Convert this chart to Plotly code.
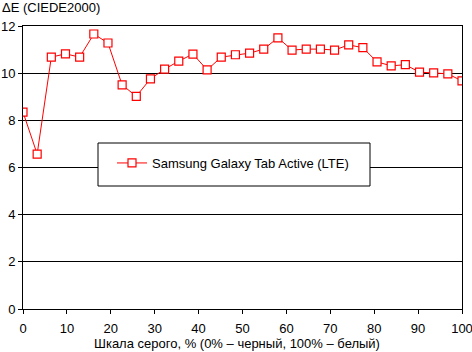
import plotly.graph_objects as go

n = 32
x_vals = [i * 100 / 31 for i in range(n)]
de_vals = [8.35, 6.57, 10.68, 10.82, 10.68, 11.66, 11.28, 9.50, 9.02, 9.76,
           10.17, 10.51, 10.81, 10.14, 10.68, 10.78, 10.85, 11.02, 11.50, 10.98,
           11.02, 11.02, 10.98, 11.20, 11.08, 10.48, 10.31, 10.36, 10.04, 10.01,
           9.97, 9.67]
series_name = "Samsung Galaxy Tab Active (LTE)"
x_ticks = [0, 10, 20, 30, 40, 50, 60, 70, 80, 90, 100]
y_ticks = [0, 2, 4, 6, 8, 10, 12]

font = dict(family="Arial, Liberation Sans, sans-serif", size=13, color="black")

fig = go.Figure()
fig.add_trace(go.Scatter(
    x=x_vals, y=de_vals, mode="lines+markers", name=series_name,
    line=dict(color="#ff0000", width=1),
    marker=dict(symbol="square", size=8, color="white",
                line=dict(color="#ff0000", width=1.2)),
))

L, R, T, B = 23, 10, 26, 43
W, H = 472, 352
pw, ph = W - L - R, H - T - B

def px_x(p):
    return (p - L) / pw

def px_y(p):
    return (H - B - p) / ph

fig.add_shape(type="rect", xref="paper", yref="paper",
              x0=px_x(98), x1=px_x(370), y0=px_y(186), y1=px_y(143),
              line=dict(color="black", width=1), fillcolor="white", layer="above")

fig.update_layout(
    width=W, height=H,
    margin=dict(l=L, r=R, t=T, b=B),
    paper_bgcolor="white", plot_bgcolor="white",
    font=font,
    showlegend=True,
    legend=dict(x=px_x(112), y=px_y(148), xanchor="left", yanchor="top",
                bgcolor="rgba(0,0,0,0)", borderwidth=0, font=font),
    xaxis=dict(range=[0, 100], tickvals=x_ticks, ticks="outside", ticklen=4,
               tickcolor="black", showgrid=False, showline=True, linecolor="black",
               linewidth=1, mirror=True, zeroline=False, automargin=False,
               ticklabelstandoff=3, ticklabeloverflow="allow"),
    yaxis=dict(range=[0, 12], tickvals=y_ticks, ticks="outside", ticklen=4,
               tickcolor="black", showgrid=True, gridcolor="black", gridwidth=1,
               showline=True, linecolor="black", linewidth=1, mirror=True,
               zeroline=False, automargin=False),
    annotations=[
        dict(text="ΔE (CIEDE2000)", xref="paper", yref="paper",
             x=px_x(0), y=px_y(8), xanchor="left", yanchor="middle",
             showarrow=False, font=font),
        dict(text="Шкала серого, % (0% – черный, 100% – белый)", xref="paper",
             yref="paper", x=px_x(237), y=px_y(343), xanchor="center",
             yanchor="middle", showarrow=False, font=font),
    ],
)

fig.write_html("out.html")
